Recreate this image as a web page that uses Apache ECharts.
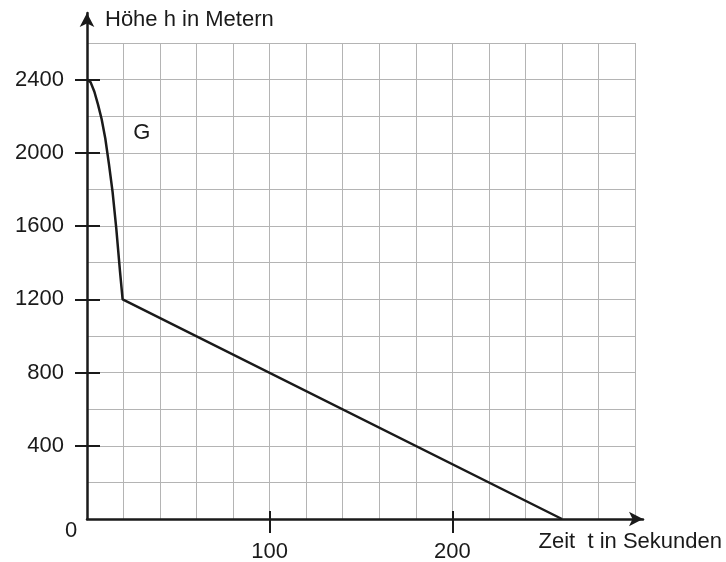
<!DOCTYPE html>
<html>
<head>
<meta charset="utf-8">
<script src="https://cdn.jsdelivr.net/npm/echarts@6/dist/echarts.min.js"></script>
<style>
  html, body { margin: 0; padding: 0; background: #fff; }
  #chart { width: 726px; height: 562px; }
</style>
</head>
<body>
<div id="chart"></div>
<script>
  // Zeit t (s) und Höhe h (m)
  const zeit = [0, 2, 4, 6, 8, 10, 12, 14, 16, 18, 19.5, 260];
  const hoehe = [2400, 2385, 2335, 2265, 2185, 2080, 1940, 1787, 1590, 1360, 1200, 0];
  const yTicks = [400, 800, 1200, 1600, 2000, 2400];
  const xTicks = [100, 200];

  const font = 'Liberation Sans, Arial, sans-serif';
  const black = '#1a1a1a';
  const gridGrau = '#b4b4b4';

  const myChart = echarts.init(document.getElementById('chart'));

  // Achse nur fürs Gitter
  function gitterAchse(pos, max, interval) {
    return {
      gridIndex: 0, type: 'value', position: pos, offset: 0,
      min: 0, max: max, interval: interval,
      axisLine: { show: false }, axisTick: { show: false }, axisLabel: { show: false },
      splitLine: { show: true, lineStyle: { color: gridGrau, width: 1 } }
    };
  }
  // Achse nur für Striche (und ggf. Beschriftung)
  function strichAchse(pos, max, werte, inside, len, withLabel, margin) {
    return {
      gridIndex: 0, type: 'value', position: pos, offset: 0, min: 0, max: max,
      axisLine: { show: false }, splitLine: { show: false },
      axisTick: { show: true, inside: inside, length: len, customValues: werte,
        lineStyle: { color: black, width: 2 } },
      axisLabel: { show: withLabel, customValues: werte, margin: margin,
        formatter: v => String(v),
        color: black, fontSize: 22, fontFamily: font }
    };
  }

  myChart.setOption({
    animation: false,
    grid: [
      // Gitter + Daten
      { left: 87, right: 91, top: 43, bottom: 43, outerBoundsMode: 'none', containLabel: false },
      // nur Achsen mit Pfeil
      { left: 87, right: 83, top: 13, bottom: 43, outerBoundsMode: 'none', containLabel: false }
    ],
    xAxis: [
      gitterAchse('bottom', 300, 20),
      strichAchse('bottom', 300, xTicks, true, 8, true, 22),
      strichAchse('bottom', 300, xTicks, false, 14, false, 0),
      {
        gridIndex: 1, type: 'value', position: 'bottom', min: 0, max: 304,
        axisLine: { show: true, symbol: ['none', 'arrow'], symbolSize: [11, 14],
          lineStyle: { color: black, width: 2.5 } },
        axisTick: { show: false }, axisLabel: { show: false }, splitLine: { show: false },
        name: 'Zeit  t in Sekunden', nameLocation: 'end', nameGap: 79,
        nameTextStyle: { align: 'right', verticalAlign: 'top', padding: [12, 0, 0, 0],
          color: black, fontSize: 22, fontFamily: font }
      }
    ],
    yAxis: [
      gitterAchse('left', 2600, 200),
      strichAchse('left', 2600, yTicks, true, 13, true, 23),
      strichAchse('left', 2600, yTicks, false, 12, false, 0),
      {
        gridIndex: 1, type: 'value', position: 'left', min: 0, max: 2764,
        axisLine: { show: true, symbol: ['none', 'arrow'], symbolSize: [11, 14],
          lineStyle: { color: black, width: 2.5 } },
        axisTick: { show: false }, axisLabel: { show: false }, splitLine: { show: false },
        name: 'Höhe h in Metern', nameLocation: 'end', nameGap: -7,
        nameTextStyle: { align: 'left', verticalAlign: 'middle', padding: [0, 0, 0, 18],
          color: black, fontSize: 22, fontFamily: font }
      }
    ],
    series: [{
      type: 'line',
      xAxisIndex: 0, yAxisIndex: 0,
      data: zeit.map((t, i) => [t, hoehe[i]]),
      showSymbol: false,
      clip: false,
      lineStyle: { color: black, width: 2.5 },
      markPoint: {
        symbolSize: 0,
        data: [{ coord: [30, 2110], name: 'G' }],
        label: { show: true, position: 'inside', formatter: 'G',
          color: black, fontSize: 22, fontFamily: font }
      }
    }],
    graphic: [{
      type: 'text', left: 65, top: 520,
      style: { text: '0', fill: black, fontSize: 22, fontFamily: font }
    }]
  });
</script>
</body>
</html>
